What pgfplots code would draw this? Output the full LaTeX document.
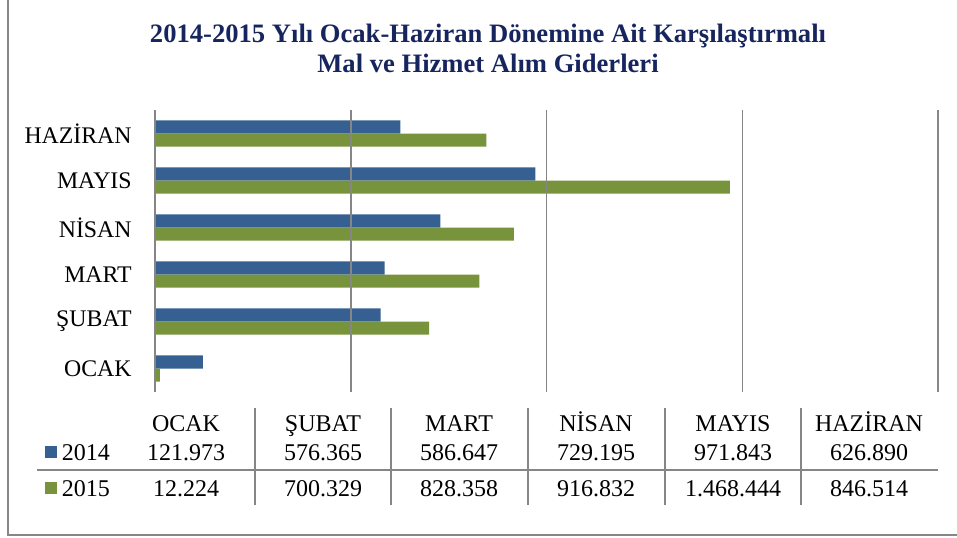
\documentclass[border=0pt]{standalone}
\usepackage{pgfplots}
\pgfplotsset{compat=1.18}
\usepackage{fontspec}
\setmainfont{Liberation Serif}
\definecolor{bar14}{RGB}{55,96,146}
\definecolor{bar15}{RGB}{119,147,60}
\definecolor{titleblue}{RGB}{23,37,94}
\definecolor{rulegray}{RGB}{134,134,134}

\begin{document}
\begin{tikzpicture}
\useasboundingbox (0,0) rectangle (478.5pt,268.5pt);
\begin{axis}[
  at={(77.5pt,72.5pt)}, anchor=south west,
  scale only axis, width=391.5pt, height=141pt,
  xbar, bar width=0.277, axis on top,
  xmin=0, xmax=2000000, ymin=-0.5, ymax=5.5,
  xtick={0,500000,1000000,1500000,2000000}, xticklabels={},
  scaled x ticks=false,
  xmajorgrids, grid style={rulegray, line width=0.75pt},
  ytick={0,...,5}, yticklabels={OCAK,ŞUBAT,MART,NİSAN,MAYIS,HAZİRAN},
  major tick length=0pt,
  axis line style={draw=none},
  y tick label style={font=\fontsize{11.9}{12}\selectfont, anchor=east,
    inner sep=0pt, xshift=-11.5pt},
  legend cell align=left,
  legend style={at={(-0.14049,-0.17730)}, anchor=north west, draw=none,
    fill=none, inner sep=0pt, outer sep=0pt, row sep=9pt, column sep=2.5pt,
    font=\fontsize{12}{14}\selectfont,
    nodes={inner sep=0pt, text height=9pt, text depth=0pt}},
  legend image code/.code={\fill (0pt,-3.5pt) rectangle (6pt,2.5pt);},
]
\addplot[fill=bar14, draw=none, bar shift=0.1385]
  coordinates {(121973,0) (576365,1) (586647,2) (729195,3) (971843,4) (626890,5)};
\addlegendentry{2014}
\addplot[fill=bar15, draw=none, bar shift=-0.1385]
  coordinates {(12224,0) (700329,1) (828358,2) (916832,3) (1468444,4) (846514,5)};
\addlegendentry{2015}
\end{axis}

\begin{scope}[x=0.5pt, y=-0.5pt, shift={(0,268.5pt)}]
  % frame (left and bottom edges are visible)
  \draw[rulegray, line width=1pt] (8,0) -- (8,535) -- (957,535);
  % title
  \node[font=\bfseries\fontsize{13.3}{15}\selectfont, text=titleblue, align=center]
    at (488,48) {2014-2015 Yılı Ocak-Haziran Dönemine Ait Karşılaştırmalı\\Mal ve Hizmet Alım Giderleri};
  % data table
  \draw[rulegray, line width=0.75pt] (37,470) -- (938,470);
  \foreach \x in {255,391,528,665,801}
    \draw[rulegray, line width=0.75pt] (\x,408) -- (\x,505);
  \begin{scope}[every node/.style={font=\fontsize{12}{14}\selectfont, anchor=base, inner sep=0pt}]
    \foreach \x/\m/\a/\b in {186/OCAK/121.973/12.224, 323/ŞUBAT/576.365/700.329,
        459/MART/586.647/828.358, 596/NİSAN/729.195/916.832,
        733/MAYIS/971.843/1.468.444, 869/HAZİRAN/626.890/846.514} {
      \node at (\x,431) {\m};
      \node at (\x,460) {\a};
      \node at (\x,496) {\b};
    }
  \end{scope}
\end{scope}
\end{tikzpicture}
\end{document}
